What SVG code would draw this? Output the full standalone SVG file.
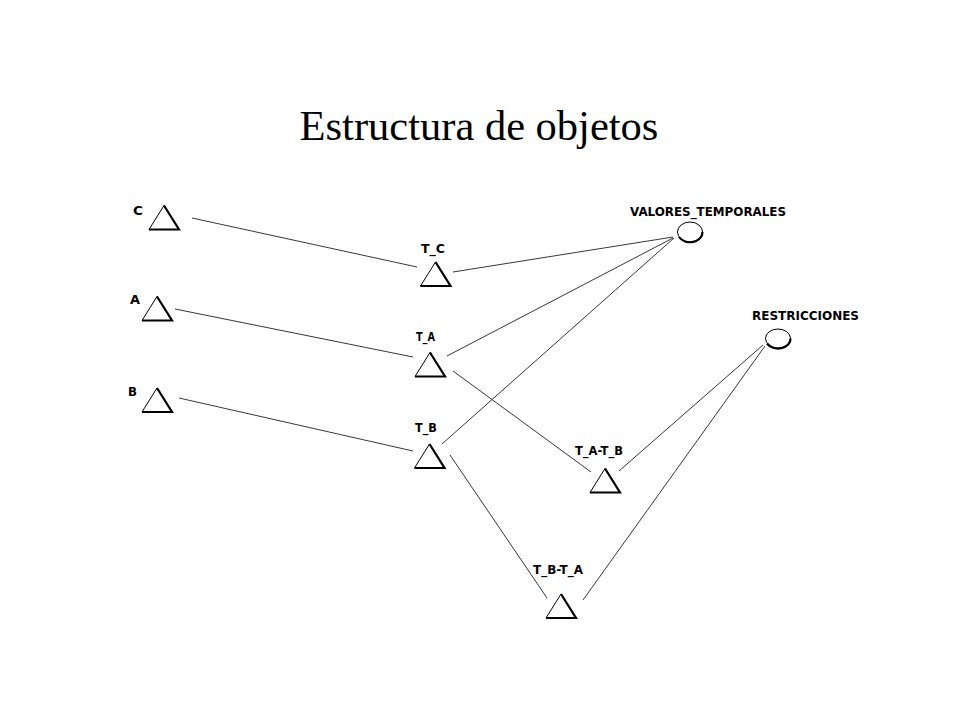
<svg xmlns="http://www.w3.org/2000/svg" width="960" height="720" viewBox="0 0 960 720">
<style>
.title{font-family:"Liberation Serif","Times New Roman",serif;font-size:42.5px;fill:#000}
.lbl{font-family:"DejaVu Sans","Liberation Sans",sans-serif;font-weight:bold;font-size:11.5px;fill:#000}
.tri{fill:none;stroke:#000;stroke-width:1}
.triS{fill:none;stroke:#000;stroke-width:2.2;stroke-linejoin:miter}
.circ{fill:none;stroke:#000;stroke-width:1}
.circS{fill:none;stroke:#000;stroke-width:2.2}
.conn line{stroke:#222;stroke-width:0.9}
</style>
<defs>
<g id="tri">
<polygon class="tri" points="0,-12 -15,12 15,12"/>
<polyline class="triS" points="0,-12 15,12 -15,12"/>
</g>
</defs>
<rect width="960" height="720" fill="#fff"/>
<text class="title" x="479" y="140" text-anchor="middle">Estructura de objetos</text>
<g id="connectors" class="conn">
<line x1="192" y1="218" x2="417" y2="267"/>
<line x1="453" y1="272" x2="673" y2="237"/>
<line x1="175" y1="309" x2="413" y2="357"/>
<line x1="447" y1="356" x2="673" y2="238"/>
<line x1="442" y1="444" x2="674" y2="238"/>
<line x1="179" y1="398" x2="413" y2="451"/>
<line x1="453" y1="371" x2="591" y2="472"/>
<line x1="450" y1="455" x2="547" y2="598"/>
<line x1="619" y1="471" x2="763" y2="345"/>
<line x1="583" y1="600" x2="765" y2="346"/>
</g>
<g id="node-C">
<use href="#tri" transform="translate(164,217.5)"/>
<text class="lbl" x="133" y="214.5" textLength="10" lengthAdjust="spacingAndGlyphs">C</text>
</g>
<g id="node-A">
<use href="#tri" transform="translate(157,308.5)"/>
<text class="lbl" x="130" y="304" textLength="10" lengthAdjust="spacingAndGlyphs">A</text>
</g>
<g id="node-B">
<use href="#tri" transform="translate(157,400)"/>
<text class="lbl" x="128" y="396" textLength="9" lengthAdjust="spacingAndGlyphs">B</text>
</g>
<g id="node-T_C">
<use href="#tri" transform="translate(435.5,274)"/>
<text class="lbl" x="421" y="252.5" textLength="24" lengthAdjust="spacingAndGlyphs">T_C</text>
</g>
<g id="node-T_A">
<use href="#tri" transform="translate(430,364.5)"/>
<text class="lbl" x="416" y="341" textLength="19" lengthAdjust="spacingAndGlyphs">T_A</text>
</g>
<g id="node-T_B">
<use href="#tri" transform="translate(429.5,456)"/>
<text class="lbl" x="415" y="431.5" textLength="22" lengthAdjust="spacingAndGlyphs">T_B</text>
</g>
<g id="node-T_A-T_B">
<use href="#tri" transform="translate(605,480.5)"/>
<text class="lbl" x="575" y="455" textLength="48" lengthAdjust="spacingAndGlyphs">T_A-T_B</text>
</g>
<g id="node-T_B-T_A">
<use href="#tri" transform="translate(561,606)"/>
<text class="lbl" x="533" y="574" textLength="50" lengthAdjust="spacingAndGlyphs">T_B-T_A</text>
</g>
<g id="node-VALORES_TEMPORALES">
<ellipse class="circ" cx="690" cy="232" rx="12.5" ry="10"/>
<path class="circS" d="M702.5,232 A12.5,10 0 0 1 679,237"/>
<text class="lbl" x="630" y="215.5" textLength="156" lengthAdjust="spacingAndGlyphs">VALORES_TEMPORALES</text>
</g>
<g id="node-RESTRICCIONES">
<ellipse class="circ" cx="778" cy="338.5" rx="12.5" ry="9.5"/>
<path class="circS" d="M790.5,338.5 A12.5,9.5 0 0 1 767,343.5"/>
<text class="lbl" x="752" y="319.5" textLength="107" lengthAdjust="spacingAndGlyphs">RESTRICCIONES</text>
</g>
</svg>
